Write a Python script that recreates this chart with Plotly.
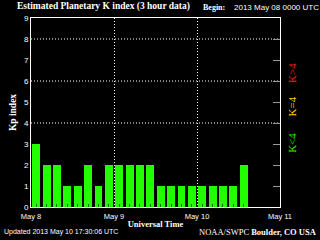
import plotly.graph_objects as go

# ---- data ----
period_start = [
    "2013-05-08 00:00", "2013-05-08 03:00", "2013-05-08 06:00", "2013-05-08 09:00",
    "2013-05-08 12:00", "2013-05-08 15:00", "2013-05-08 18:00", "2013-05-08 21:00",
    "2013-05-09 00:00", "2013-05-09 03:00", "2013-05-09 06:00", "2013-05-09 09:00",
    "2013-05-09 12:00", "2013-05-09 15:00", "2013-05-09 18:00", "2013-05-09 21:00",
    "2013-05-10 00:00", "2013-05-10 03:00", "2013-05-10 06:00", "2013-05-10 09:00",
    "2013-05-10 12:00",
]
kp_values = [3, 2, 2, 1, 1, 2, 1, 2,
             2, 2, 2, 2, 1, 1, 1, 1,
             1, 1, 1, 1, 2]
day_ticks = ["2013-05-08", "2013-05-09", "2013-05-10", "2013-05-11"]
day_labels = ["May 8", "May 9", "May 10", "May 11"]
y_ticks = [0, 1, 2, 3, 4, 5, 6, 7, 8, 9]
grid_levels = [4, 6, 8]

HOUR = 3600 * 1000
SANS = "Liberation Sans"
SERIF = "Liberation Serif"

fig = go.Figure()
fig.add_trace(go.Bar(
    x=period_start, y=kp_values,
    offset=0.37 * HOUR, width=2.3 * HOUR,
    marker=dict(color="#22FF00", line=dict(width=0)),
    showlegend=False, hoverinfo="skip",
))
fig.add_trace(go.Scatter(x=[], y=[], yaxis="y2", showlegend=False))

for lv in grid_levels:
    fig.add_shape(type="line", xref="paper", x0=0, x1=1, yref="y", y0=lv, y1=lv,
                  line=dict(color="white", width=1, dash="1px,2px"), layer="below")

fig.update_layout(
    width=320, height=240,
    margin=dict(l=29, r=40, t=18, b=30),
    paper_bgcolor="black", plot_bgcolor="black",
    bargap=0,
    xaxis=dict(
        type="date", range=["2013-05-08 00:00", "2013-05-11 00:00"],
        tickvals=day_ticks, ticktext=day_labels,
        ticks="outside", ticklen=2, tickcolor="black",
        tickfont=dict(family=SANS, size=7.5, color="white"),
        showgrid=True, gridcolor="white", gridwidth=1, griddash="1px,2px",
        showline=True, linecolor="white", linewidth=1, mirror=True,
        zeroline=False,
        minor=dict(ticks="inside", tick0="2013-05-08 01:30", dtick=3 * HOUR,
                   ticklen=3, tickcolor="rgba(0,0,0,0.6)", tickwidth=1, showgrid=False),
        title=dict(text="<b>Universal Time</b>", standoff=1,
                   font=dict(family=SERIF, size=8.5, color="white")),
    ),
    yaxis=dict(
        range=[0, 9], tickvals=y_ticks, ticks="",
        tickfont=dict(family=SANS, size=8, color="white"),
        showgrid=False, zeroline=False,
        showline=True, linecolor="white", linewidth=1, mirror=True,
        title=dict(text="<b>Kp index</b>", standoff=5,
                   font=dict(family=SERIF, size=9.5, color="white")),
    ),
    yaxis2=dict(
        overlaying="y", side="right", range=[0, 9], tickvals=y_ticks[1:-1],
        ticks="inside", ticklen=7, tickcolor="#999999", tickwidth=1,
        showticklabels=False, showgrid=False, zeroline=False, showline=False,
    ),
)

ann = [
    dict(text="<b>Estimated Planetary K index (3 hour data)</b>", x=-0.064, y=1.06,
         xanchor="left", font=dict(family=SERIF, size=9.5, color="white")),
    dict(text="<b>Begin:</b>", x=(200 - 29) / 251, y=1.055, xanchor="left",
         font=dict(family=SERIF, size=8, color="white")),
    dict(text="2013 May 08 0000 UTC", x=(232 - 29) / 251, y=1.055, xanchor="left",
         font=dict(family=SANS, size=8, color="white")),
    dict(text="Updated 2013 May 10 17:30:06 UTC", x=-29 / 251, y=(210 - 235) / 192,
         xanchor="left", font=dict(family=SANS, size=7, color="white")),
    dict(text="NOAA/SWPC <b>Boulder, CO USA</b>", x=(319 - 29) / 251, y=(210 - 235) / 192,
         xanchor="right", font=dict(family=SERIF, size=8.5, color="white")),
    dict(text="K>4", x=(300 - 29) / 251, y=(210 - 74) / 192, textangle=-90,
         font=dict(family=SERIF, size=11, color="#FF2200")),
    dict(text="K=4", x=(300 - 29) / 251, y=(210 - 108) / 192, textangle=-90,
         font=dict(family=SERIF, size=11, color="#FFD000")),
    dict(text="K<4", x=(300 - 29) / 251, y=(210 - 145) / 192, textangle=-90,
         font=dict(family=SERIF, size=11, color="#33EE00")),
]
for a in ann:
    a.update(xref="paper", yref="paper", showarrow=False, yanchor="middle")
    fig.add_annotation(**a)

fig.write_html("out.html")
